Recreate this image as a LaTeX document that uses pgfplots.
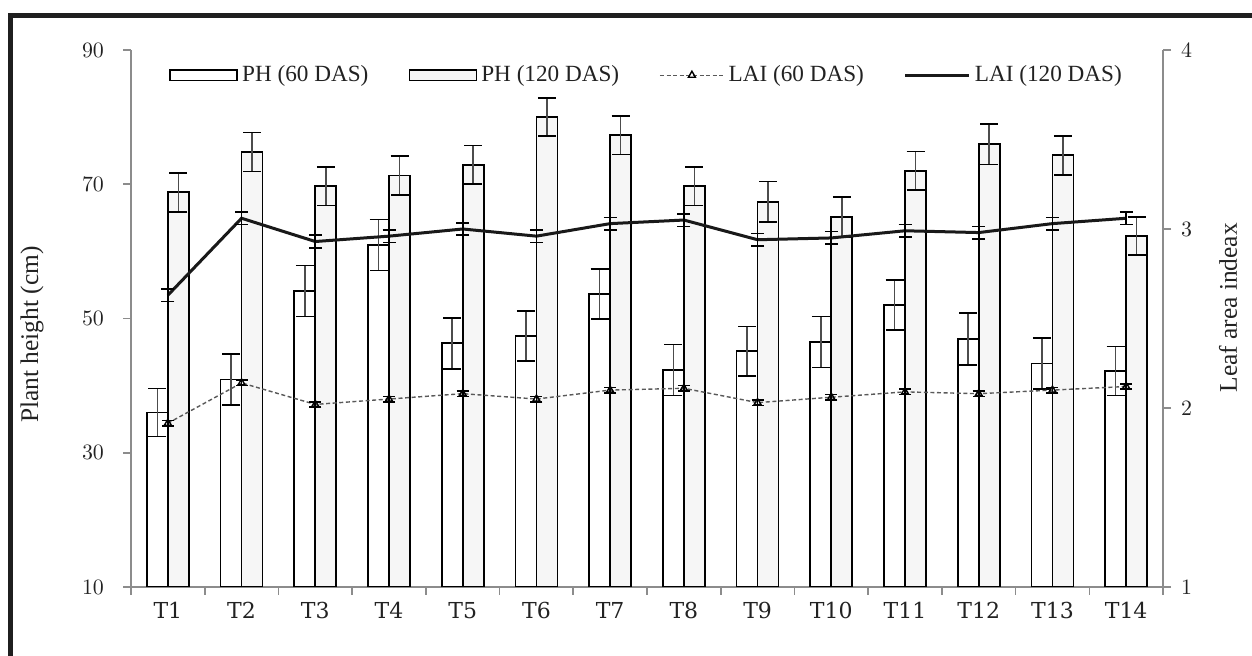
\documentclass[border=0pt]{standalone}
\usepackage{fontspec}
\setmainfont{Liberation Serif}
\newfontfamily\tickfont{DejaVu Serif}
\usepackage{pgfplots}
\pgfplotsset{compat=1.18}
\usepackage{pgfplotstable}

\pgfplotstableread{
x  ph60  e60   ph120 e120  lai60 el60  lai120 el120
1  36.0  3.6   68.8  2.9   1.915 0.015 2.63   0.035
2  40.9  3.8   74.8  2.9   2.14  0.015 3.06   0.035
3  54.1  3.8   69.7  2.85  2.02  0.015 2.93   0.035
4  60.95 3.8   71.3  2.9   2.05  0.015 2.96   0.035
5  46.3  3.8   72.9  2.85  2.08  0.015 3.00   0.035
6  47.4  3.7   80.0  2.85  2.05  0.015 2.96   0.035
7  53.65 3.7   77.3  2.85  2.10  0.015 3.03   0.035
8  42.3  3.8   69.7  2.85  2.11  0.015 3.05   0.035
9  45.1  3.7   67.4  3.0   2.03  0.015 2.94   0.035
10 46.5  3.8   65.1  3.0   2.06  0.015 2.95   0.035
11 52.0  3.7   72.0  2.85  2.09  0.015 2.99   0.035
12 46.95 3.85  75.95 3.0   2.08  0.015 2.98   0.035
13 43.3  3.8   74.3  2.9   2.10  0.015 3.03   0.035
14 42.2  3.65  62.3  2.85  2.12  0.015 3.06   0.035
}\data

\definecolor{axisgray}{HTML}{8C8C8C}
\definecolor{barlight}{HTML}{F6F6F6}
\definecolor{txt}{HTML}{222222}

\pgfplotsset{
  common/.style={
    scale only axis, width=516pt, height=268.5pt,
    at={(65.5pt,34.5pt)}, anchor=south west,
    xmin=0.5, xmax=14.5,
    axis line style={axisgray, line width=0.8pt},
    tick style={axisgray, line width=0.8pt},
    tick align=outside, major tick length=4pt,
    ticklabel style={font=\tickfont\fontsize{11}{13}\selectfont, text=txt},
    label style={font=\fontsize{12.7}{15}\selectfont, text=txt},
  },
  barlegend/.style={legend image code/.code={\draw[##1] (0pt,-2.6pt) rectangle (33.5pt,2.6pt);}},
  marklinelegend/.style={legend image code/.code={\draw[##1, mark repeat=2, mark phase=2] plot coordinates {(0pt,0pt) (16pt,0pt) (32pt,0pt)};}},
  linelegend/.style={legend image code/.code={\draw[##1] (0pt,0pt) -- (32pt,0pt);}},
}

\begin{document}
\begin{tikzpicture}
\useasboundingbox (0pt,0pt) rectangle (626pt,328pt);
\draw[line width=2.5pt, black!88] (5.4pt,-20pt) -- (5.4pt,320.35pt) -- (660pt,320.35pt);

\begin{axis}[common,
  axis y line*=left, axis x line*=bottom,
  ymin=10, ymax=90, ytick={10,30,50,70,90},
  yticklabel style={xshift=-6pt},
  xtick={0.5,1.5,...,14.5},
  xticklabels={T1,T2,T3,T4,T5,T6,T7,T8,T9,T10,T11,T12,T13,T14,{}},
  xticklabel style={xshift=18.43pt},
  ylabel={Plant height (cm)},
  ylabel style={at={(axis description cs:-0.0959,0.47)}, anchor=center},
  ybar, bar width=0.285,
]
\addplot[draw=black, fill=white, line width=0.9pt, bar shift=-0.1425,
  error bars/.cd, y dir=both, y explicit,
  error bar style={line width=0.8pt, black!70},
  error mark options={black, line width=0.8pt, mark size=4.5pt, rotate=90}]
  table[x=x, y=ph60, y error=e60]{\data};
\addplot[draw=black, fill=barlight, line width=0.9pt, bar shift=0.1425,
  error bars/.cd, y dir=both, y explicit,
  error bar style={line width=0.8pt, black!70},
  error mark options={black, line width=0.8pt, mark size=4.5pt, rotate=90}]
  table[x=x, y=ph120, y error=e120]{\data};
\end{axis}

\begin{axis}[common,
  axis y line*=right, axis x line=none,
  ymin=1, ymax=4, ytick={1,2,3,4},
  yticklabel style={xshift=1.5pt},
  ylabel={Leaf area indeax},
  ylabel style={at={(axis description cs:1.063,0.52)}, anchor=center},
  legend columns=4,
  legend cell align=left,
  legend style={at={(0.0368,0.953)}, anchor=west, draw=none, fill=none,
    font=\fontsize{11.6}{13}\selectfont, text=txt, inner sep=0pt,
    /tikz/every even column/.append style={column sep=18pt}},
]
\addlegendimage{draw=black, fill=white, line width=0.9pt, barlegend}
\addlegendentry{PH (60 DAS)}
\addlegendimage{draw=black, fill=barlight, line width=0.9pt, barlegend}
\addlegendentry{PH (120 DAS)}

\addplot[black!65, line width=0.7pt, dash pattern=on 2pt off 1.3pt,
  mark=triangle, mark size=2pt, mark options={solid, black},
  marklinelegend,
  error bars/.cd, y dir=both, y explicit,
  error bar style={line width=0.8pt, black, solid},
  error mark options={black, solid, line width=0.8pt, mark size=3pt, rotate=90}]
  table[x=x, y=lai60, y error=el60]{\data};
\addlegendentry{LAI (60 DAS)}

\addplot[black!90, line width=1.5pt, mark=none,
  linelegend,
  error bars/.cd, y dir=both, y explicit,
  error bar style={line width=0.8pt, black},
  error mark options={black, line width=0.8pt, mark size=3.25pt, rotate=90}]
  table[x=x, y=lai120, y error=el120]{\data};
\addlegendentry{LAI (120 DAS)}
\end{axis}
\end{tikzpicture}
\end{document}
